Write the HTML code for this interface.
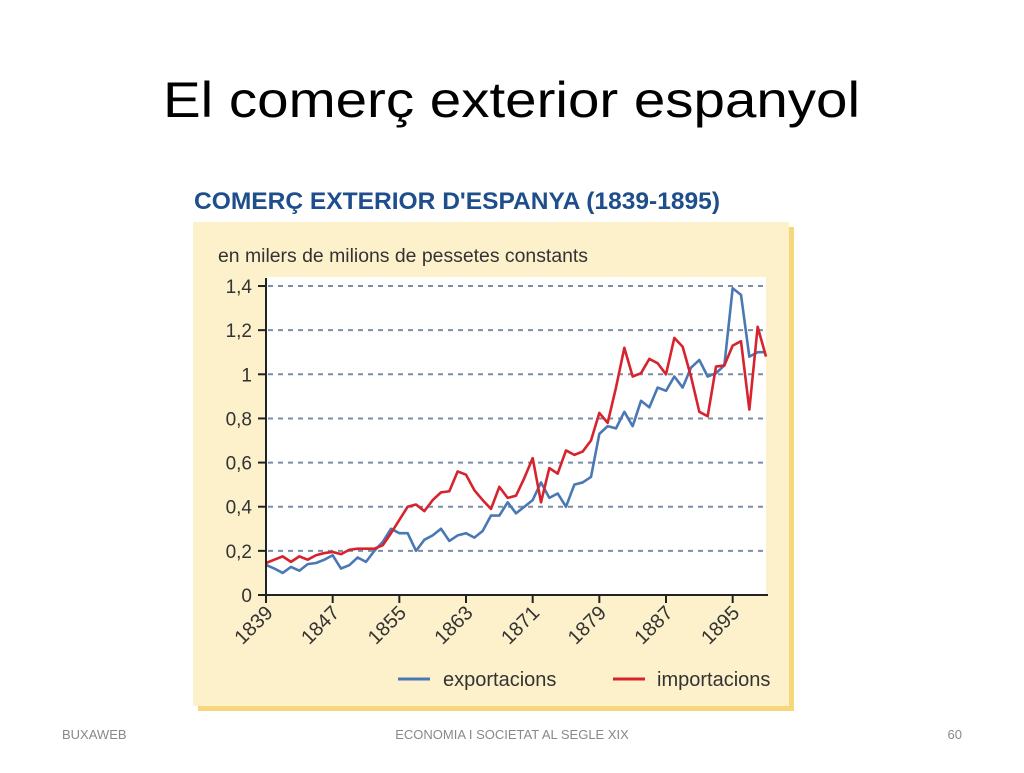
<!DOCTYPE html>
<html><head><meta charset="utf-8"><style>
body{margin:0;width:1024px;height:768px;background:#fff;overflow:hidden;font-family:"Liberation Sans",sans-serif}
</style></head><body>
<svg width="1024" height="768" viewBox="0 0 1024 768" xmlns="http://www.w3.org/2000/svg">
<text x="163" y="117" font-size="50" textLength="697" lengthAdjust="spacingAndGlyphs" fill="#000">El comerç exterior espanyol</text>
<text x="194" y="209" font-size="24" font-weight="bold" textLength="526" lengthAdjust="spacingAndGlyphs" fill="#1f4e8c">COMERÇ EXTERIOR D'ESPANYA (1839-1895)</text>
<rect x="198" y="227" width="596" height="484" fill="#f6d77c"/>
<rect x="193" y="222" width="596" height="484" fill="#fdf1cc"/>
<text x="218" y="262" font-size="19" textLength="370" lengthAdjust="spacingAndGlyphs" fill="#333">en milers de milions de pessetes constants</text>
<rect x="266" y="277" width="500" height="318" fill="#fff"/>
<g id="grid"></g>
<g id="series"></g>
<line x1="266" y1="278" x2="266" y2="596" stroke="#222" stroke-width="2"/>
<line x1="258" y1="595" x2="768" y2="595" stroke="#222" stroke-width="2"/>
<g id="ticks"></g>
<line x1="398" y1="679" x2="430" y2="679" stroke="#4a78b5" stroke-width="3"/>
<text x="443" y="686" font-size="20" fill="#333">exportacions</text>
<line x1="613" y1="679" x2="645" y2="679" stroke="#d6232e" stroke-width="3"/>
<text x="657" y="686" font-size="20" fill="#333">importacions</text>
<text x="62" y="739" font-size="13" fill="#888">BUXAWEB</text>
<text x="512" y="739" font-size="13" fill="#888" text-anchor="middle">ECONOMIA I SOCIETAT AL SEGLE XIX</text>
<text x="962" y="739" font-size="13" fill="#888" text-anchor="end">60</text>
</svg>
<script>
const startYear = 1839;
const xTickLabels = ["1839","1847","1855","1863","1871","1879","1887","1895"];
const yTickLabels = ["0","0,2","0,4","0,6","0,8","1","1,2","1,4"];
const yTickValues = [0,0.2,0.4,0.6,0.8,1,1.2,1.4];
const exportacions = [.136,.12,.10,.127,.11,.14,.145,.16,.18,.12,.135,.17,.15,.20,.24,.30,.28,.28,.20,.25,.27,.30,.245,.27,.28,.26,.29,.36,.36,.42,.37,.40,.43,.51,.44,.46,.40,.50,.51,.535,.73,.765,.755,.83,.765,.88,.85,.94,.925,.99,.94,1.03,1.065,.99,1.005,1.04,1.39,1.36,1.08,1.10,1.10];
const importacions = [.145,.16,.175,.15,.175,.16,.18,.19,.195,.185,.205,.21,.21,.21,.225,.28,.34,.40,.41,.38,.43,.465,.47,.56,.545,.475,.43,.39,.49,.44,.45,.53,.62,.42,.575,.55,.655,.635,.65,.70,.825,.78,.94,1.12,.99,1.005,1.07,1.05,1.0,1.165,1.125,.99,.83,.81,1.035,1.04,1.13,1.15,.84,1.215,1.08];
const NS="http://www.w3.org/2000/svg";
function xScale(year){return 266+(year-1839)*(500/60);}
function yScale(v){return 595-v*220.7;}
const grid=document.getElementById('grid'),ticks=document.getElementById('ticks'),series=document.getElementById('series');
yTickValues.forEach((v,i)=>{
  const y=yScale(v);
  if(v>0){const g=document.createElementNS(NS,'line');
  g.setAttribute('x1',268);g.setAttribute('x2',766);g.setAttribute('y1',y);g.setAttribute('y2',y);
  g.setAttribute('stroke','#7a8ea6');g.setAttribute('stroke-width','2');g.setAttribute('stroke-dasharray','5,5');
  
  
  grid.appendChild(g);}
  const t=document.createElementNS(NS,'line');
  t.setAttribute('x1',258);t.setAttribute('x2',266);t.setAttribute('y1',y);t.setAttribute('y2',y);t.setAttribute('stroke','#222');t.setAttribute('stroke-width','2');
  
  
  ticks.appendChild(t);
  const l=document.createElementNS(NS,'text');
  l.setAttribute('x',252);l.setAttribute('y',y+7);l.setAttribute('text-anchor','end');l.setAttribute('font-size','19');l.setAttribute('fill','#333');
  l.textContent=yTickLabels[i];
  
  
  ticks.appendChild(l);
});
xTickLabels.forEach(lab=>{
  const x=xScale(+lab);
  const t=document.createElementNS(NS,'line');
  t.setAttribute('x1',x);t.setAttribute('x2',x);t.setAttribute('y1',595);t.setAttribute('y2',603);t.setAttribute('stroke','#222');t.setAttribute('stroke-width','2');
  
  
  ticks.appendChild(t);
  const l=document.createElementNS(NS,'text');
  l.setAttribute('x',x+8);l.setAttribute('y',614);l.setAttribute('text-anchor','end');l.setAttribute('font-size','20');l.setAttribute('fill','#333');
  l.setAttribute('transform','rotate(-45 '+(x+8)+' 614)');
  l.textContent=lab;
  
  
  ticks.appendChild(l);
});
function drawLine(arr,color,name){
  const p=document.createElementNS(NS,'polyline');
  p.setAttribute('points',arr.map((v,i)=>xScale(startYear+i)+','+yScale(v)).join(' '));
  p.setAttribute('fill','none');p.setAttribute('stroke',color);p.setAttribute('stroke-width','2.6');p.setAttribute('stroke-linejoin','round');
  
  
  series.appendChild(p);
}
drawLine(exportacions,'#4a78b5','exports-line');
drawLine(importacions,'#d6232e','imports-line');
</script>
</body></html>
